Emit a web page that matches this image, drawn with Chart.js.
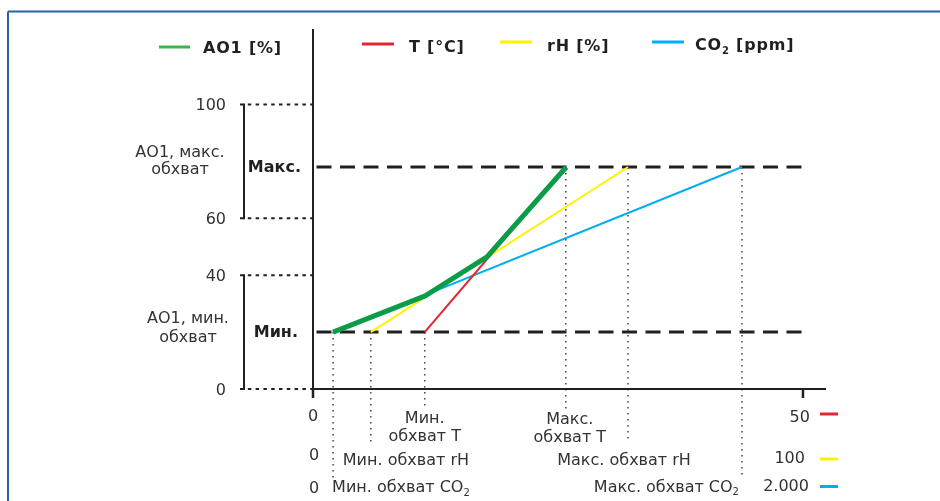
<!DOCTYPE html>
<html><head><meta charset="utf-8">
<script src="https://cdn.jsdelivr.net/npm/chart.js@4"></script>
<style>html,body{margin:0;padding:0;background:#fff}canvas{display:block}</style>
</head><body>
<canvas id="c" width="940" height="501"></canvas>
<script>
// ---------- data ----------
const legendLabels = ['AO1 [%]', 'T [°C]', 'rH [%]', 'CO2 [ppm]'];
const aoTickValues = [0, 40, 60, 100];
const aoTickLabels = ['0', '40', '60', '100'];
const aoMin = 20;          // AO1 at minimum coverage
const aoMax = 78;          // AO1 at maximum coverage
const tRange = [0, 50];
const rhRange = [0, 100];
const co2Range = [0, 2000];
const rangeStartLabels = ['0', '0', '0'];
const rangeEndLabels = ['50', '100', '2.000'];
const tCoverage = [11.4, 25.8];
const rhCoverage = [11.8, 64.3];
const co2Coverage = [82, 1751];
const ao1Span = [4.1, 22.9, 35.5, 51.7];   // % of sensor span
const ao1Values = [20, 32.7, 46.4, 78];

// ---------- styles / layout ----------
const AXIS_EXT = 1.047, Y_EXT = 1.265;
const C_GREEN = '#0a9c48', C_GREEN_LEG = '#3cb54a', C_RED = '#e3262f', C_YEL = '#fff200', C_BLUE = '#00aeef';
const C_INK = '#231f20', C_TXT = '#333333';
const FONT = '"DejaVu Sans", Verdana, sans-serif';

const pair = (xs, ys) => xs.map((v, i) => ({x: v, y: ys[i]}));

function rich(ctx, parts, x, y, align, bold, spacing) {
  const fm = (bold ? 'bold ' : '') + '16px ' + FONT;
  const fs = (bold ? 'bold ' : '') + '10px ' + FONT;
  ctx.save();
  ctx.letterSpacing = (spacing || 0) + 'px';
  ctx.textAlign = 'left';
  ctx.textBaseline = 'alphabetic';
  const ws = parts.map(p => { ctx.font = p[1] ? fs : fm; return ctx.measureText(p[0]).width; });
  const tot = ws.reduce((a, b) => a + b, 0);
  let cx = align === 'center' ? x - tot / 2 : align === 'right' ? x - tot : x;
  parts.forEach((p, i) => {
    ctx.font = p[1] ? fs : fm;
    ctx.fillText(p[0], cx, p[1] ? y + 3.5 : y);
    cx += ws[i];
  });
  ctx.restore();
}
function line(ctx, x1, y1, x2, y2, color, w, dash) {
  ctx.save();
  ctx.strokeStyle = color; ctx.lineWidth = w; ctx.setLineDash(dash || []);
  ctx.beginPath(); ctx.moveTo(x1, y1); ctx.lineTo(x2, y2); ctx.stroke();
  ctx.restore();
}

const decor = {
  id: 'decor',
  beforeDatasetsDraw(chart) {
    const ctx = chart.ctx, s = chart.scales, y = s.y;
    // frame
    line(ctx, 8, 11.5, 940, 11.5, '#2763a0', 2);
    line(ctx, 8, 11.5, 8, 501, '#2763a0', 2);
    // vertical dotted guides
    const dot = [1.5, 4.5], dc = '#444';
    const yMin = y.getPixelForValue(aoMin), yMax = y.getPixelForValue(aoMax);
    line(ctx, s.xCO2.getPixelForValue(co2Coverage[0]), yMin, s.xCO2.getPixelForValue(co2Coverage[0]), 480, dc, 1.5, dot);
    line(ctx, s.xRH.getPixelForValue(rhCoverage[0]), yMin, s.xRH.getPixelForValue(rhCoverage[0]), 445, dc, 1.5, dot);
    line(ctx, s.xT.getPixelForValue(tCoverage[0]), yMin, s.xT.getPixelForValue(tCoverage[0]), 408, dc, 1.5, dot);
    line(ctx, s.xT.getPixelForValue(tCoverage[1]), yMax, s.xT.getPixelForValue(tCoverage[1]), 410, dc, 1.5, dot);
    line(ctx, s.xRH.getPixelForValue(rhCoverage[1]), yMax, s.xRH.getPixelForValue(rhCoverage[1]), 443, dc, 1.5, dot);
    line(ctx, s.xCO2.getPixelForValue(co2Coverage[1]), yMax, s.xCO2.getPixelForValue(co2Coverage[1]), 475, dc, 1.5, dot);
  },
  afterDatasetsDraw(chart) {
    const ctx = chart.ctx, s = chart.scales, y = s.y, a = chart.chartArea;
    const x0 = s.x.getPixelForValue(0), x100 = s.x.getPixelForValue(100);
    const y0 = y.getPixelForValue(0);
    // axes
    line(ctx, x0, a.top, x0, y0 + 1, C_INK, 2);
    line(ctx, x0, y0, a.right, y0, C_INK, 2);
    line(ctx, x0, y0, x0, y0 + 9, C_INK, 2.5);
    line(ctx, x100, y0, x100, y0 + 9, C_INK, 2.5);
    // y ticks (dotted) + labels
    ctx.fillStyle = C_TXT;
    aoTickValues.forEach((v, i) => {
      const py = y.getPixelForValue(v);
      line(ctx, 240, py, x0, py, C_INK, 2, [3.5, 4.3]);
      rich(ctx, [[aoTickLabels[i]]], 226, py + 6, 'right');
    });
    // brackets
    line(ctx, 244, y.getPixelForValue(aoTickValues[3]) - 1, 244, y.getPixelForValue(aoTickValues[2]) + 1, C_INK, 2);
    line(ctx, 244, y.getPixelForValue(aoTickValues[1]) - 1, 244, y.getPixelForValue(aoTickValues[0]) + 1, C_INK, 2);
    ctx.fillStyle = C_TXT;
    rich(ctx, [['АО1, макс.']], 180, 156.7, 'center');
    rich(ctx, [['обхват']], 180, 174.3, 'center');
    rich(ctx, [['АО1, мин.']], 188, 323.3, 'center');
    rich(ctx, [['обхват']], 188, 341.7, 'center');
    ctx.fillStyle = C_INK;
    rich(ctx, [['Макс.']], 301, y.getPixelForValue(aoMax) + 5, 'right', true);
    rich(ctx, [['Мин.']], 298, y.getPixelForValue(aoMin) + 4.5, 'right', true);

    // bottom labels
    ctx.fillStyle = C_TXT;
    rich(ctx, [[rangeStartLabels[0]]], s.xT.getPixelForValue(tRange[0]), 420.7, 'center');
    rich(ctx, [[rangeStartLabels[1]]], s.xRH.getPixelForValue(rhRange[0]) + 1, 460, 'center');
    rich(ctx, [[rangeStartLabels[2]]], s.xCO2.getPixelForValue(co2Range[0]) + 1, 493.3, 'center');
    rich(ctx, [[rangeEndLabels[0]]], s.xT.getPixelForValue(tRange[1]) + 7, 421.7, 'right');
    rich(ctx, [[rangeEndLabels[1]]], s.xRH.getPixelForValue(rhRange[1]) + 2, 463.3, 'right');
    rich(ctx, [[rangeEndLabels[2]]], s.xCO2.getPixelForValue(co2Range[1]) + 6, 491, 'right');
    line(ctx, 820, 414, 838, 414, C_RED, 3);
    line(ctx, 820, 459, 838, 459, C_YEL, 3);
    line(ctx, 820, 486.5, 838, 486.5, C_BLUE, 3);

    const tMinX = s.xT.getPixelForValue(tCoverage[0]), tMaxX = s.xT.getPixelForValue(tCoverage[1]);
    rich(ctx, [['Мин.']], tMinX, 422.7, 'center');
    rich(ctx, [['обхват T']], tMinX, 440.7, 'center');
    rich(ctx, [['Макс.']], tMaxX + 4, 424, 'center');
    rich(ctx, [['обхват T']], tMaxX + 4, 442.3, 'center');
    rich(ctx, [['Мин. обхват rH']], s.xRH.getPixelForValue(rhCoverage[0]) - 28, 465, 'left');
    rich(ctx, [['Макс. обхват rH']], s.xRH.getPixelForValue(rhCoverage[1]) - 4, 465, 'center');
    rich(ctx, [['Мин. обхват CO'], ['2', true]], s.xCO2.getPixelForValue(co2Coverage[0]) - 1, 492.3, 'left');
    rich(ctx, [['Макс. обхват CO'], ['2', true]], s.xCO2.getPixelForValue(co2Coverage[1]) - 3, 491.7, 'right');

    // legend
    const leg = [
      {c: C_GREEN_LEG, x1: 159, x2: 190, ly: 47, tx: 203, ty: 53.3, parts: [[legendLabels[0]]]},
      {c: C_RED, x1: 362, x2: 394, ly: 44, tx: 409, ty: 52.3, parts: [[legendLabels[1]]]},
      {c: C_YEL, x1: 500, x2: 532, ly: 42, tx: 547, ty: 50.7, parts: [[legendLabels[2]]]},
      {c: C_BLUE, x1: 652, x2: 684, ly: 42, tx: 695, ty: 50, parts: [[legendLabels[3].slice(0, 2)], [legendLabels[3].slice(2, 3), true], [legendLabels[3].slice(3)]]}
    ];
    leg.forEach(l => {
      line(ctx, l.x1, l.ly, l.x2, l.ly, l.c, 3);
      ctx.fillStyle = C_INK;
      rich(ctx, l.parts, l.tx, l.ty, 'left', true, 0.8);
    });
  }
};

const common = {fill: false, tension: 0, pointRadius: 0, borderCapStyle: 'butt'};
new Chart(document.getElementById('c'), {
  type: 'line',
  data: {
    datasets: [
      Object.assign({label: legendLabels[0], data: pair(ao1Span, ao1Values), xAxisID: 'x', borderColor: C_GREEN, borderWidth: 5, borderJoinStyle: 'round'}, common),
      Object.assign({label: legendLabels[1], data: pair(tCoverage, [aoMin, aoMax]), xAxisID: 'xT', borderColor: C_RED, borderWidth: 2}, common),
      Object.assign({label: legendLabels[2], data: pair(rhCoverage, [aoMin, aoMax]), xAxisID: 'xRH', borderColor: C_YEL, borderWidth: 2}, common),
      Object.assign({label: legendLabels[3], data: pair(co2Coverage, [aoMin, aoMax]), xAxisID: 'xCO2', borderColor: C_BLUE, borderWidth: 2}, common),
      Object.assign({label: 'Макс.', data: pair([0, 100], [aoMax, aoMax]), xAxisID: 'x', borderColor: C_INK, borderWidth: 3, borderDash: [15, 8.5], borderDashOffset: 20}, common),
      Object.assign({label: 'Мин.', data: pair([0, 100], [aoMin, aoMin]), xAxisID: 'x', borderColor: C_INK, borderWidth: 3, borderDash: [15, 8.5], borderDashOffset: 20}, common)
    ]
  },
  options: {
    responsive: false, animation: false, events: [],
    layout: {padding: {left: 313, right: 114, top: 29, bottom: 112}},
    plugins: {legend: {display: false}, tooltip: {enabled: false}},
    scales: {
      x: {type: 'linear', display: false, min: 0, max: 100 * AXIS_EXT},
      xT: {type: 'linear', axis: 'x', position: 'bottom', display: false, min: tRange[0], max: tRange[1] * AXIS_EXT},
      xRH: {type: 'linear', axis: 'x', position: 'bottom', display: false, min: rhRange[0], max: rhRange[1] * AXIS_EXT},
      xCO2: {type: 'linear', axis: 'x', position: 'bottom', display: false, min: co2Range[0], max: co2Range[1] * AXIS_EXT},
      y: {type: 'linear', display: false, min: 0, max: 100 * Y_EXT}
    }
  },
  plugins: [decor]
});
</script>
</body></html>
